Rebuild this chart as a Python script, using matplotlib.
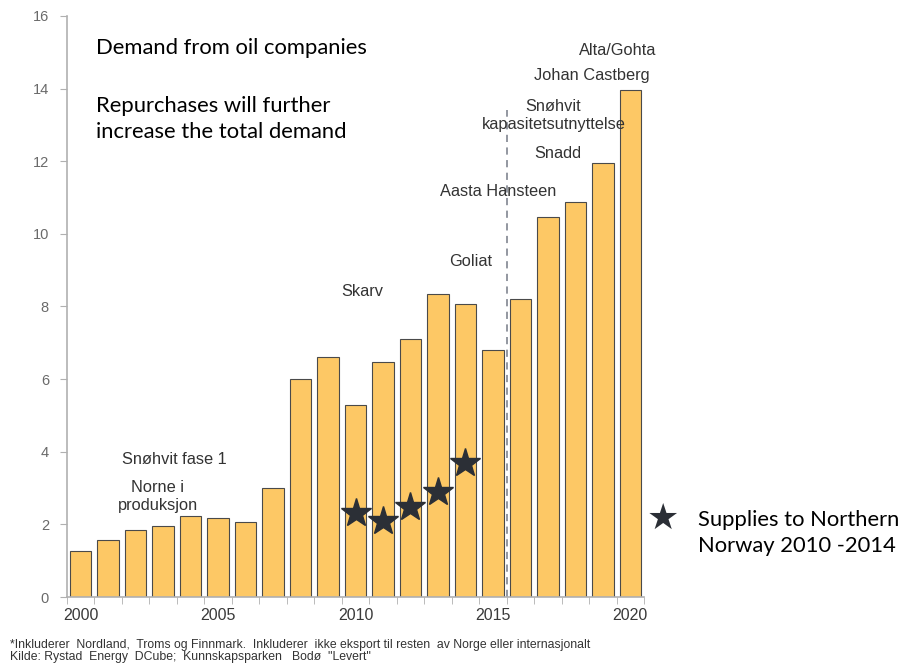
import numpy as np
import matplotlib
matplotlib.use('Agg')
import matplotlib.pyplot as plt

years = list(range(2000, 2021))
demand = [1.27, 1.58, 1.85, 1.96, 2.23, 2.17, 2.07, 3.0, 5.99, 6.6, 5.3,
          6.47, 7.1, 8.34, 8.08, 6.8, 8.22, 10.47, 10.88, 11.96, 13.97]
star_years = [2010, 2011, 2012, 2013, 2014]
star_values = [2.31, 2.1, 2.49, 2.9, 3.68]

# project labels: (text, x, y)
projects = [
    ('Snøhvit fase 1', 2003.4, 3.78),
    ('Norne i\nproduksjon', 2002.8, 2.77),
    ('Skarv', 2010.25, 8.42),
    ('Goliat', 2014.2, 9.25),
    ('Aasta Hansteen', 2015.2, 11.18),
    ('Snadd', 2017.35, 12.2),
    ('Snøhvit\nkapasitetsutnyttelse', 2017.2, 13.26),
    ('Johan Castberg', 2018.6, 14.35),
    ('Alta/Gohta', 2019.55, 15.05),
]

grey = '#6a6a6a'
plt.rcParams['font.family'] = ['Liberation Sans', 'DejaVu Sans']

fig = plt.figure(figsize=(9.14, 6.66), dpi=100)
ax = fig.add_axes([0.0733, 0.1036, 0.6313, 0.8724])

ax.bar(years, demand, width=0.78, color='#FDC865', edgecolor='#4a4a4a', linewidth=0.8, zorder=2)
ax.plot(star_years, star_values, linestyle='none', marker='*', markersize=22,
        color='#2b2f36', zorder=3)
ax.plot([2015.5, 2015.5], [0, 13.4], linestyle=(0, (4, 3)), color='#8a8f99', linewidth=1.3, zorder=1)

for txt, x, y in projects:
    ax.text(x, y, txt, ha='center', va='center', fontsize=11.8, color='#333333',
            linespacing=1.3)

ax.set_xlim(1999.5, 2020.5)
ax.set_ylim(0, 16)
ax.set_yticks(np.arange(0, 17, 2))
ax.set_xticks([2000, 2005, 2010, 2015, 2020])
ax.set_xticks(np.arange(1999.5, 2021, 1), minor=True)
ax.tick_params(axis='x', which='major', length=0, labelsize=11.5, labelcolor='#3a3a3a', pad=8)
ax.tick_params(axis='x', which='minor', length=5, color='#b0b0b0')
ax.tick_params(axis='y', length=5, color='#b0b0b0', labelsize=10.5, labelcolor=grey, pad=8)
for s in ['top', 'right']:
    ax.spines[s].set_visible(False)
for s in ['left', 'bottom']:
    ax.spines[s].set_color('#b0b0b0')
    ax.spines[s].set_linewidth(1.2)

calibri = ['Lato', 'DejaVu Sans']
fig.text(96 / 914, 1 - 48 / 666, 'Demand from oil companies', fontsize=15.8,
         family=calibri, va='center', ha='left')
fig.text(96 / 914, 1 - 119 / 666, 'Repurchases will further\nincrease the total demand',
         fontsize=15.8, family=calibri, va='center', ha='left', linespacing=1.35)

fig.text(663 / 914, 1 - 519 / 666, '★', fontsize=26, color='#2b2f36',
         family=['DejaVu Sans'], ha='center', va='center')
fig.text(698 / 914, 1 - 533 / 666, 'Supplies to Northern\nNorway 2010 -2014',
         fontsize=15.8, family=calibri, va='center', ha='left', linespacing=1.35)

fig.text(10 / 914, 1 - 651 / 666,
         '*Inkluderer  Nordland,  Troms og Finnmark.  Inkluderer  ikke eksport til resten  av Norge eller internasjonalt\n'
         'Kilde: Rystad  Energy  DCube;  Kunnskapsparken   Bodø  "Levert"',
         fontsize=8.8, color='#333333', va='center', ha='left', linespacing=1.05)

fig.savefig('out.png', dpi=100)
